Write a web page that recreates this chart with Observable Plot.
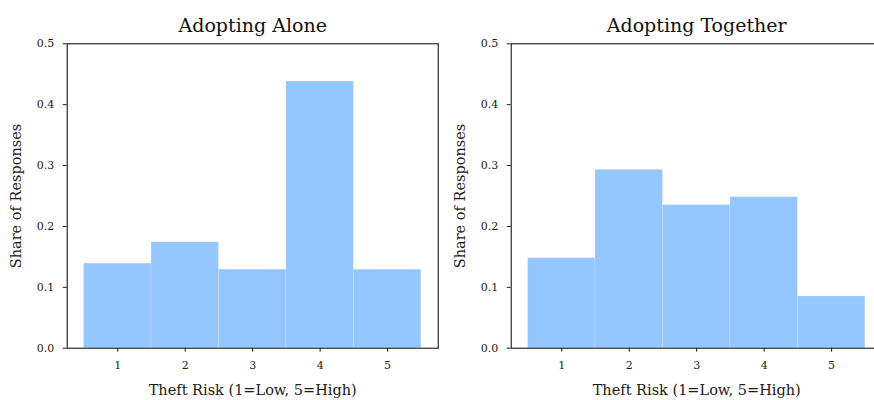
<!DOCTYPE html>
<html>
<head>
<meta charset="utf-8">
<script src="https://cdn.jsdelivr.net/npm/d3@7"></script>
<script src="https://cdn.jsdelivr.net/npm/@observablehq/plot@0.6"></script>
<style>
  html, body { margin: 0; padding: 0; background: #fff; overflow: hidden; }
  #wrap { position: relative; width: 874px; height: 400px; overflow: hidden; }
  .panel { position: absolute; top: 0; }
  .panel g[aria-label="x-axis label"], .panel g[aria-label="y-axis label"] { font-size: 14.5px; }
</style>
</head>
<body>
<div id="wrap"></div>
<script>
const risk = [1, 2, 3, 4, 5];
const aloneShare = [0.139, 0.174, 0.129, 0.438, 0.129];
const togetherShare = [0.148, 0.293, 0.235, 0.248, 0.085];
const yTicks = [0, 0.1, 0.2, 0.3, 0.4, 0.5];
const xTicks = [1, 2, 3, 4, 5];
const panelTitles = ["Adopting Alone", "Adopting Together"];
const xLabel = "Theft Risk (1=Low, 5=High)";
const yLabel = "Share of Responses";

const barColor = "#94c6ff";
const font = "'DejaVu Serif', serif";

function panel(title, shares) {
  const data = risk.map((r, i) => ({risk: r, share: shares[i]}));
  return Plot.plot({
    width: 445,
    height: 400,
    marginLeft: 66.7,
    marginRight: 7.3,
    marginTop: 43.3,
    marginBottom: 52.3,
    style: {fontFamily: font, fontSize: "11px", color: "#1a1a1a", background: "#fff"},
    x: {domain: [0.25, 5.75]},
    y: {domain: [0, 0.5]},
    marks: [
      Plot.rectY(data, {x1: d => d.risk - 0.5, x2: d => d.risk + 0.5, y: "share", fill: barColor, stroke: "#ffffff", strokeWidth: 0.5, strokeOpacity: 0.35}),
      Plot.frame({stroke: "#000", strokeWidth: 1}),
      Plot.axisX({ticks: xTicks, tickSize: 4, tickPadding: 9, tickFormat: d3.format("d"),
        label: xLabel, labelAnchor: "center", labelArrow: "none", labelOffset: 47, fontSize: 11}),
      Plot.axisY({ticks: yTicks, tickSize: 4, tickPadding: 9, tickFormat: d3.format(".1f"),
        label: yLabel, labelAnchor: "center", labelArrow: "none", labelOffset: 56, fontSize: 11}),
      Plot.text([title], {frameAnchor: "top", dy: -12, lineAnchor: "bottom", fontSize: 19, fill: "#111"})
    ]
  });
}

const wrap = document.getElementById("wrap");
const p1 = panel(panelTitles[0], aloneShare);
p1.classList.add("panel");
p1.style.left = "0px";
wrap.appendChild(p1);
const p2 = panel(panelTitles[1], togetherShare);
p2.classList.add("panel");
p2.style.left = "444.3px";
wrap.appendChild(p2);
</script>
</body>
</html>
